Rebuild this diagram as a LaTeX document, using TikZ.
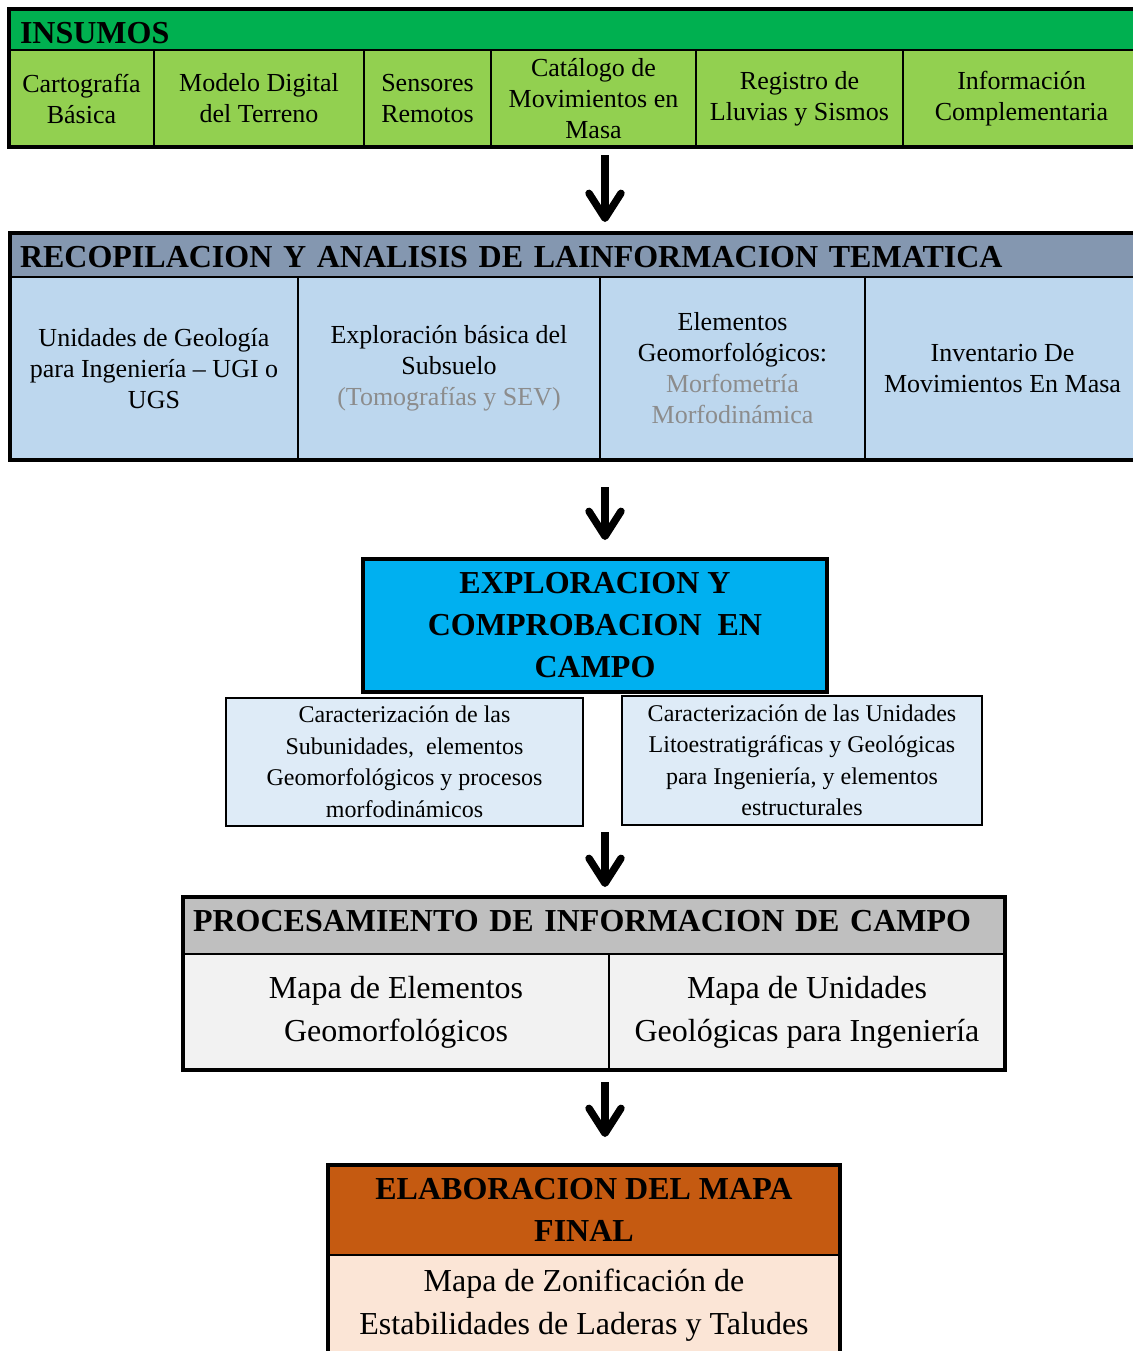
\documentclass[tikz,border=0pt]{standalone}
\usepackage{fontspec}
\setmainfont{Liberation Serif}
\newfontfamily\famcab[WordSpace=0.7]{Liberation Serif}
\usetikzlibrary{arrows.meta,fit}

\definecolor{verdeos}{HTML}{00B050}
\definecolor{verdecl}{HTML}{92D050}
\definecolor{azulgris}{HTML}{8497B0}
\definecolor{azulcl}{HTML}{BDD7EE}
\definecolor{cian}{HTML}{00B0F0}
\definecolor{azulpal}{HTML}{DEEBF7}
\definecolor{grismed}{HTML}{BFBFBF}
\definecolor{grispal}{HTML}{F2F2F2}
\definecolor{naranja}{HTML}{C55A11}
\definecolor{salmon}{HTML}{FBE5D6}
\definecolor{textogris}{HTML}{8C8C8C}

\newcommand\fuentetit{\fontsize{16}{21}\selectfont\bfseries}
\newcommand\fuentecab{\famcab\fontsize{16}{21}\selectfont\bfseries}
\newcommand\fuentecelda{\fontsize{13}{15.5}\selectfont}
\newcommand\fuentechica{\fontsize{12}{15.75}\selectfont}
\newcommand\fuentemapa{\fontsize{16}{21.5}\selectfont}

\tikzset{
  celda/.style={draw, line width=1pt, inner sep=0pt, outer sep=0pt, align=center, font=\fuentecelda},
  titulo/.style={draw, line width=1pt, anchor=north west, align=left, inner ysep=0pt,
    outer sep=0pt, font=\fuentecab},
  marco/.style={draw, line width=1.6pt, inner sep=0pt, outer sep=0pt},
  flecha/.style={line width=3.7pt, -{Straight Barb[round,length=12.5pt,width=16pt]}}
}

\begin{document}
\begin{tikzpicture}[x=0.5pt,y=-0.5pt]

\useasboundingbox (0,0) rectangle (1133,1351);
\clip (0,0) rectangle (1133,1351);
\coordinate (eje) at (605,0);

% INSUMOS
\node[titulo, fill=verdeos, text width=554.5pt, inner xsep=5.5pt, minimum height=20.5pt,
  text height=15pt, text depth=1pt] (ins-tit) at (9,9) {INSUMOS};
\node[celda, fill=verdecl, minimum width=72.5pt, minimum height=48.5pt] (c1) at (81.5,98.5) {Cartografía\\Básica};
\node[celda, fill=verdecl, minimum width=105pt, minimum height=48.5pt] (c2) at (259,98.5) {Modelo Digital\\del Terreno};
\node[celda, fill=verdecl, minimum width=63.5pt, minimum height=48.5pt] (c3) at (427.5,98.5) {Sensores\\Remotos};
\node[celda, fill=verdecl, minimum width=102.5pt, minimum height=48.5pt] (c4) at (593.5,98.5) {Catálogo de\\Movimientos en\\Masa};
\node[celda, fill=verdecl, minimum width=103.5pt, minimum height=48.5pt] (c5) at (799.5,98.5) {Registro de\\Lluvias y Sismos};
\node[celda, fill=verdecl, minimum width=118.5pt, minimum height=48.5pt] (c6) at (1021.5,98.5) {Información\\Complementaria};
\node[marco, fit=(ins-tit)(c1)(c6)] (insumos) {};

% RECOPILACION
\node[titulo, fill=azulgris, text width=555pt, inner xsep=5pt, minimum height=22pt,
  text height=14pt, text depth=1.5pt] (rec-tit) at (10,233) {RECOPILACION Y ANALISIS DE LAINFORMACION TEMATICA};
\node[celda, fill=azulcl, minimum width=144pt, minimum height=91.5pt] (d1) at (154,368.5) {Unidades de Geología\\para Ingeniería – UGI o\\UGS};
\node[celda, fill=azulcl, minimum width=151pt, minimum height=91.5pt] (d2) at (449,368.5) {Exploración básica del\\Subsuelo\\{\color{textogris}(Tomografías y SEV)}};
\node[celda, fill=azulcl, minimum width=132.5pt, minimum height=91.5pt] (d3) at (732.5,368.5) {Elementos\\Geomorfológicos:\\{\color{textogris}Morfometría}\\{\color{textogris}Morfodinámica}};
\node[celda, fill=azulcl, minimum width=137.5pt, minimum height=91.5pt] (d4) at (1002.5,368.5) {Inventario De\\Movimientos En Masa};
\node[marco, fit=(rec-tit)(d1)(d4)] (recop) {};

% EXPLORACION
\node[marco, fill=cian, minimum width=232pt, minimum height=66.5pt, align=center, font=\fuentetit] (explor) at (595,625.5) {EXPLORACION Y\\COMPROBACION\ \ EN\\CAMPO};
\node[celda, fill=azulpal, minimum width=178.5pt, minimum height=64pt, font=\fuentechica] (sub) at (404.5,762) {Caracterización de las\\Subunidades,\ \ elementos\\Geomorfológicos y procesos\\morfodinámicos};
\node[celda, fill=azulpal, minimum width=180pt, minimum height=64.5pt, font=\fuentechica] (lito) at (802,760.5) {Caracterización de las Unidades\\Litoestratigráficas y Geológicas\\para Ingeniería, y elementos\\estructurales};
\node[fit=(explor)(sub)(lito), inner sep=0pt, outer sep=0pt] (campo) {};

% PROCESAMIENTO
\node[titulo, fill=grismed, text width=401pt, inner xsep=5pt, minimum height=28.5pt,
  text height=10pt, text depth=4pt] (proc-tit) at (183,897) {PROCESAMIENTO DE INFORMACION DE CAMPO};
\node[celda, fill=grispal, minimum width=213pt, minimum height=58pt, font=\fuentemapa] (mgeo) at (396,1012) {Mapa de Elementos\\Geomorfológicos};
\node[celda, fill=grispal, minimum width=198pt, minimum height=58pt, font=\fuentemapa] (mugi) at (807,1012) {Mapa de Unidades\\Geológicas para Ingeniería};
\node[marco, fit=(proc-tit)(mgeo)(mugi)] (proc) {};

% MAPA FINAL
\node[celda, fill=naranja, minimum width=256pt, minimum height=45pt, font=\fuentetit] (fin-tit) at (584,1210) {ELABORACION DEL MAPA\\FINAL};
\node[celda, fill=salmon, minimum width=256pt, minimum height=50pt, font=\fuentemapa] (zonif) at (584,1305) {Mapa de Zonificación de\\Estabilidades de Laderas y Taludes};
\node[marco, fit=(fin-tit)(zonif)] (final) {};

% flechas
\draw[flecha, shorten <=4pt, shorten >=5.5pt] (insumos.south -| eje) -- (recop.north -| eje);
\draw[flecha, shorten <=13.5pt, shorten >=9.5pt] (recop.south -| eje) -- (explor.north -| eje);
\draw[flecha, shorten <=3pt, shorten >=5pt] (campo.south -| eje) -- (proc.north -| eje);
\draw[flecha, shorten <=6pt, shorten >=14pt] (proc.south -| eje) -- (final.north -| eje);

\end{tikzpicture}
\end{document}
